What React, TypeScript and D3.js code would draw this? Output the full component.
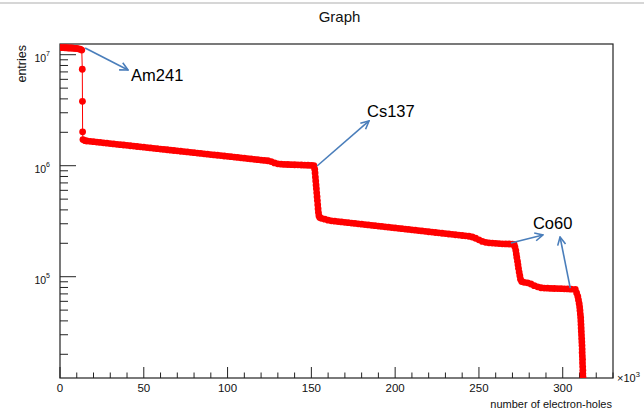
import React from 'react';
import * as d3 from 'd3';

// number of electron-holes, in units of 10^3
const holes = [
  0, 1, 2, 3, 4, 5, 6, 7, 8, 9, 10, 11, 12, 13,
  13.3, 13.4, 13.5, 13.7, 15,
  16, 18, 20, 22, 24, 26, 28, 30, 32, 34, 36, 38, 40, 42, 44, 46, 48, 50, 52, 54, 56, 58, 60,
  62, 64, 66, 68, 70, 72, 74, 76, 78, 80, 82, 84, 86, 88, 90, 92, 94, 96, 98, 100, 102, 104,
  106, 108, 110, 112, 114, 116, 118, 120, 122, 124,
  126, 128, 130, 132, 134, 136, 138, 140, 142, 144, 146, 148, 150, 151.5,
  152, 152.2, 152.4, 152.6, 152.8, 153, 153.2, 153.4, 153.6, 153.8, 154, 154.2, 154.5, 155, 156,
  158, 160, 162, 164, 166, 168, 170, 172, 174, 176, 178, 180, 182, 184, 186, 188, 190, 192,
  194, 196, 198, 200, 202, 204, 206, 208, 210, 212, 214, 216, 218, 220, 222, 224, 226, 228,
  230, 232, 234, 236, 238, 240, 242, 244,
  246, 248, 250, 252, 254, 256, 258, 260, 262, 264, 266, 268, 270, 271,
  271.5, 272, 272.3, 272.6, 273, 273.3, 273.6, 274, 274.4, 274.8, 275.5,
  277, 279, 281, 283, 285, 287, 289, 291, 293, 295, 297, 299, 301, 303, 305,
  307.5, 308.3, 309, 309.4, 309.8, 310.1, 310.3, 310.5, 310.7, 310.8, 310.9, 311.0, 311.1,
  311.2, 311.3, 311.4, 311.5, 311.6, 311.6, 311.7, 311.8, 311.8, 311.9, 312, 312, 312.1, 312.1,
];

// entries, in millions
const entriesM = [
  11.6, 11.6, 11.6, 11.55, 11.55, 11.5, 11.5, 11.5, 11.45, 11.4, 11.4, 11.3, 11.2, 11.0,
  7.4, 3.8, 2.02, 1.72, 1.68,
  1.670, 1.657, 1.645, 1.632, 1.620, 1.608, 1.596, 1.584, 1.572, 1.560, 1.548, 1.536, 1.525,
  1.513, 1.502, 1.490, 1.479, 1.468, 1.457, 1.446, 1.435, 1.424, 1.413, 1.402, 1.392, 1.381,
  1.371, 1.361, 1.350, 1.340, 1.330, 1.320, 1.310, 1.300, 1.290, 1.280, 1.271, 1.261, 1.252,
  1.242, 1.233, 1.223, 1.214, 1.205, 1.196, 1.187, 1.178, 1.169, 1.160, 1.151, 1.142, 1.134,
  1.125, 1.117, 1.108,
  1.090, 1.060, 1.040, 1.032, 1.028, 1.025, 1.022, 1.020, 1.018, 1.015, 1.012, 1.010, 1.006, 1.0,
  0.93, 0.86, 0.79, 0.73, 0.67, 0.62, 0.57, 0.525, 0.485, 0.445, 0.41, 0.38, 0.355, 0.342, 0.336,
  0.330, 0.323, 0.319, 0.3165, 0.314, 0.3116, 0.3092, 0.3068, 0.3044, 0.302, 0.2997, 0.2973,
  0.295, 0.2927, 0.2904, 0.2882, 0.2859, 0.2837, 0.2815, 0.2793, 0.2771, 0.2749, 0.2728, 0.2707,
  0.2686, 0.2665, 0.2644, 0.2623, 0.2603, 0.2583, 0.2562, 0.2542, 0.2523, 0.2503, 0.2484, 0.2464,
  0.2445, 0.2426, 0.2407, 0.2388, 0.237, 0.2351, 0.2333, 0.2315,
  0.228, 0.222, 0.215, 0.208, 0.204, 0.202, 0.201, 0.200, 0.199, 0.198, 0.1975, 0.197, 0.1965, 0.1955,
  0.185, 0.172, 0.160, 0.149, 0.138, 0.128, 0.119, 0.110, 0.102, 0.095, 0.0905,
  0.089, 0.088, 0.086, 0.083, 0.081, 0.0795, 0.079, 0.0788, 0.0785, 0.0783, 0.0782, 0.078,
  0.0778, 0.0776, 0.0772,
  0.0768, 0.0713, 0.0664, 0.0617, 0.0574, 0.0534, 0.0496, 0.0461, 0.0429, 0.0399, 0.0371, 0.0345,
  0.0321, 0.0298, 0.0277, 0.0258, 0.0240, 0.0223, 0.0208, 0.0193, 0.0180, 0.0167, 0.0155, 0.0144,
  0.0134, 0.0125, 0.0118,
];

const xTickLabels = [0, 50, 100, 150, 200, 250, 300];
const yDecades = [5, 6, 7];

// annotation labels: [text, x (10^3), entries]
const labels: [string, number, number][] = [
  ['Am241', 42.4, 5.76e6],
  ['Cs137', 183.2, 2.75e6],
  ['Co60', 282.2, 2.69e5],
];
// arrows: [x0, y0, x1, y1] in data units
const arrows = [
  [15, 1.15e7, 40.6, 7.28e6],
  [153.4, 9.94e5, 184.4, 2.53e6],
  [269.1, 2.01e5, 288.2, 2.38e5],
  [304.5, 7.9e4, 298.4, 2.28e5],
];

const font = '"Liberation Sans", Arial, Helvetica, sans-serif';

export default function App() {
  const width = 644;
  const height = 411;
  const frame = { left: 60, right: 613, top: 44, bottom: 378 };

  const x = d3.scaleLinear().domain([0, 330]).range([frame.left, frame.right]);
  const y = d3.scaleLog().domain([1.223e4, 1.249e7]).range([frame.bottom, frame.top]);

  const points: [number, number][] = holes.map((h, i) => [h, entriesM[i] * 1e6]);
  const line = d3.line<[number, number]>()
    .x(d => x(d[0]))
    .y(d => y(d[1]));

  const xTicks = x.ticks(33);
  const yTicks = y.ticks();
  const blue = '#4a7ebb';

  return (
    <div style={{ position: 'absolute', left: 0, top: 0 }}>
      <svg width={width} height={height} style={{ display: 'block', background: '#fff' }} fontFamily={font}>
        <defs>
          <clipPath id="frameClip">
            <rect x={frame.left} y={frame.top} width={frame.right - frame.left} height={frame.bottom - frame.top} />
          </clipPath>
          <marker id="arrowHead" viewBox="0 0 10 10" refX="9" refY="5" markerWidth="10" markerHeight="10"
            markerUnits="userSpaceOnUse" orient="auto">
            <path d="M1,1 L9,5 L1,9" fill="none" stroke={blue} strokeWidth={1.6} />
          </marker>
        </defs>

        <line x1={0} x2={width} y1={3} y2={3} stroke="#c8c8c8" strokeWidth={1.5} />

        <text x={339.5} y={22} textAnchor="middle" fontSize={15} fill="#111">Graph</text>

        {/* frame */}
        <rect x={frame.left} y={frame.top} width={frame.right - frame.left} height={frame.bottom - frame.top}
          fill="none" stroke="#222" strokeWidth={1.2} />

        {/* x ticks */}
        {xTicks.map(t => {
          const major = t % 50 === 0;
          return (
            <line key={'xt' + t} x1={x(t)} x2={x(t)} y1={frame.bottom} y2={frame.bottom - (major ? 11 : 5.5)}
              stroke="#222" strokeWidth={1} />
          );
        })}
        {xTickLabels.map(t => (
          <text key={'xl' + t} x={x(t)} y={392} textAnchor="middle" fontSize={11.5} fill="#111">{t}</text>
        ))}
        <text x={617} y={382} fontSize={11} fill="#111">
          ×10<tspan dy={-5} fontSize={7.5}>3</tspan>
        </text>
        <text x={612} y={408} textAnchor="end" fontSize={11} fill="#111">number of electron-holes</text>

        {/* y ticks */}
        {yTicks.map((t, i) => {
          const major = yDecades.some(d => Math.abs(t - Math.pow(10, d)) < 1);
          return (
            <line key={'yt' + i} x1={frame.left} x2={frame.left + (major ? 16 : 8)} y1={y(t)} y2={y(t)}
              stroke="#222" strokeWidth={1} />
          );
        })}
        {yDecades.map(d => (
          <text key={'yl' + d} x={50} y={y(Math.pow(10, d)) + 7} textAnchor="end" fontSize={10.5} fill="#111">
            10<tspan dy={-5.5} fontSize={7}>{d}</tspan>
          </text>
        ))}
        <text transform="translate(26,45) rotate(-90)" textAnchor="end" fontSize={12.5} fill="#111">entries</text>

        {/* data */}
        <g clipPath="url(#frameClip)">
          <path d={line(points) || ''} fill="none" stroke="#ff0000" strokeWidth={1} />
          {points.map((p, i) => (
            <circle key={'p' + i} cx={x(p[0])} cy={y(p[1])} r={3.4} fill="#ff0000" />
          ))}
        </g>

        {/* annotations */}
        {arrows.map((a, i) => (
          <line key={'ar' + i} x1={x(a[0])} y1={y(a[1])} x2={x(a[2])} y2={y(a[3])}
            stroke={blue} strokeWidth={1.6} markerEnd="url(#arrowHead)" />
        ))}
        {labels.map(([txt, lx, ly]) => (
          <text key={txt} x={x(lx)} y={y(ly)} fontSize={16.5} fill="#000">{txt}</text>
        ))}
      </svg>
    </div>
  );
}
